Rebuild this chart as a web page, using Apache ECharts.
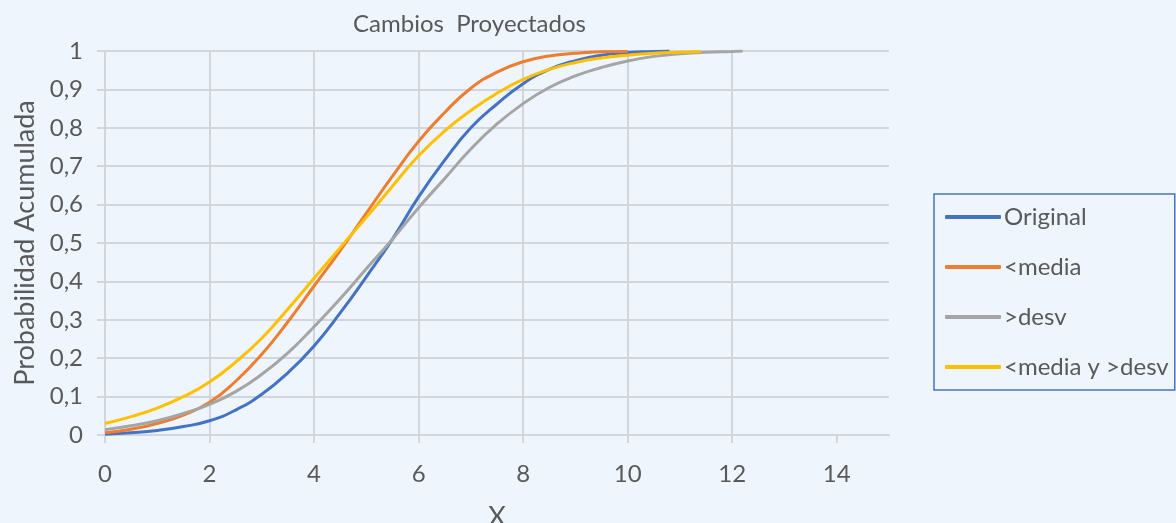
<!DOCTYPE html>
<html>
<head>
<meta charset="utf-8">
<script src="https://cdn.jsdelivr.net/npm/echarts@6/dist/echarts.min.js"></script>
<style>
  html, body { margin: 0; padding: 0; background: #EEF5FC; }
  #chart { width: 1176px; height: 523px; }
</style>
</head>
<body>
<div id="chart"></div>
<script>
// Cumulative probability curves for the projected scenarios
const seriesNames = ['Original', '<media', '>desv', '<media y >desv'];
const seriesColors = ['#4472C4', '#ED7D31', '#A5A5A5', '#FFC000'];

const xOriginal = [0, 0.5, 1, 1.5, 2, 2.5, 3, 3.5, 4, 4.5, 5, 5.5, 6, 6.5, 7, 7.5, 8, 8.5, 9, 9.5, 10, 10.5, 10.8];
const yOriginal = [0.002, 0.006, 0.012, 0.022, 0.037, 0.065, 0.106, 0.162, 0.232, 0.318, 0.412, 0.51, 0.62, 0.716, 0.8, 0.862, 0.915, 0.952, 0.975, 0.989, 0.996, 0.999, 1.0];

const xMedia = [0, 0.5, 1, 1.5, 2, 2.5, 3, 3.5, 4, 4.5, 5, 5.5, 6, 6.5, 7, 7.5, 8, 8.5, 9, 9.5, 10];
const yMedia = [0.006, 0.015, 0.03, 0.052, 0.085, 0.14, 0.21, 0.295, 0.388, 0.48, 0.578, 0.674, 0.765, 0.84, 0.903, 0.945, 0.972, 0.987, 0.994, 0.998, 0.999];

const xDesv = [0, 0.5, 1, 1.5, 2, 2.5, 3, 3.5, 4, 4.5, 5, 5.5, 6, 6.5, 7, 7.5, 8, 8.5, 9, 9.5, 10, 10.5, 11, 11.5, 12, 12.2];
const yDesv = [0.014, 0.024, 0.037, 0.056, 0.08, 0.113, 0.158, 0.214, 0.282, 0.355, 0.433, 0.51, 0.592, 0.668, 0.745, 0.81, 0.863, 0.905, 0.935, 0.957, 0.974, 0.986, 0.993, 0.997, 0.999, 1.0];

const xMediaDesv = [0, 0.5, 1, 1.5, 2, 2.5, 3, 3.5, 4, 4.5, 5, 5.5, 6, 6.5, 7, 7.5, 8, 8.5, 9, 9.5, 10, 10.5, 11, 11.4];
const yMediaDesv = [0.03, 0.048, 0.07, 0.1, 0.138, 0.19, 0.252, 0.328, 0.408, 0.488, 0.567, 0.648, 0.727, 0.792, 0.845, 0.89, 0.926, 0.952, 0.97, 0.982, 0.989, 0.994, 0.997, 0.999];

const xTicks = [0, 2, 4, 6, 8, 10, 12, 14];

const pairs = (xs, ys) => xs.map((x, i) => [x, ys[i]]);
const seriesData = [
  pairs(xOriginal, yOriginal),
  pairs(xMedia, yMedia),
  pairs(xDesv, yDesv),
  pairs(xMediaDesv, yMediaDesv)
];

const FONT = 'Lato, "Open Sans", sans-serif';
const TEXT = '#595959';
const GRID = '#D2D6DA';

const chart = echarts.init(document.getElementById('chart'), null, { renderer: 'canvas' });
chart.setOption({
  backgroundColor: '#EEF5FC',
  animation: false,
  title: {
    text: 'Cambios  Proyectados',
    left: 348,
    top: 7,
    textStyle: { fontFamily: FONT, fontSize: 24, fontWeight: 'normal', color: TEXT }
  },
  legend: {
    orient: 'vertical',
    left: 934,
    top: 194,
    padding: [9, 6, 9, 11],
    borderColor: '#4472C4',
    borderWidth: 1.5,
    itemWidth: 56,
    itemHeight: 4,
    itemGap: 22,
    icon: 'roundRect',
    data: seriesNames,
    textStyle: { fontFamily: FONT, fontSize: 24, color: TEXT, lineHeight: 28, padding: [0, 0, 0, -2] }
  },
  grid: { left: 105, right: 287, top: 51, bottom: 88, containLabel: false, outerBoundsMode: 'none' },
  xAxis: {
    type: 'value',
    min: 0,
    max: 15,
    interval: 2,
    name: 'X',
    nameLocation: 'middle',
    nameGap: 69,
    nameTextStyle: { fontFamily: FONT, fontSize: 27, color: TEXT },
    axisLine: { show: true, lineStyle: { color: GRID, width: 2 } },
    axisTick: { show: true, length: 8, customValues: xTicks, lineStyle: { color: GRID, width: 2 } },
    axisLabel: { customValues: xTicks, margin: 27, fontFamily: FONT, fontSize: 24, color: TEXT },
    splitLine: { show: true, showMaxLine: false, lineStyle: { color: GRID, width: 2 } }
  },
  yAxis: {
    type: 'value',
    min: 0,
    max: 1,
    interval: 0.1,
    name: 'Probabilidad Acumulada',
    nameLocation: 'middle',
    nameGap: 60,
    nameTextStyle: { fontFamily: FONT, fontSize: 27, color: TEXT },
    axisLine: { show: true, lineStyle: { color: GRID, width: 2 } },
    axisTick: { show: true, length: 8, lineStyle: { color: GRID, width: 2 } },
    axisLabel: {
      margin: 22,
      fontFamily: FONT,
      fontSize: 24,
      color: TEXT,
      formatter: v => String(Math.round(v * 10) / 10).replace('.', ',')
    },
    splitLine: { show: true, lineStyle: { color: GRID, width: 2 } }
  },
  series: seriesNames.map((name, i) => ({
    name,
    type: 'line',
    data: seriesData[i],
    smooth: 0.5,
    showSymbol: false,
    symbol: 'none',
    color: seriesColors[i],
    lineStyle: { width: 3, color: seriesColors[i] },
    z: 3 + i
  }))
});
</script>
</body>
</html>
